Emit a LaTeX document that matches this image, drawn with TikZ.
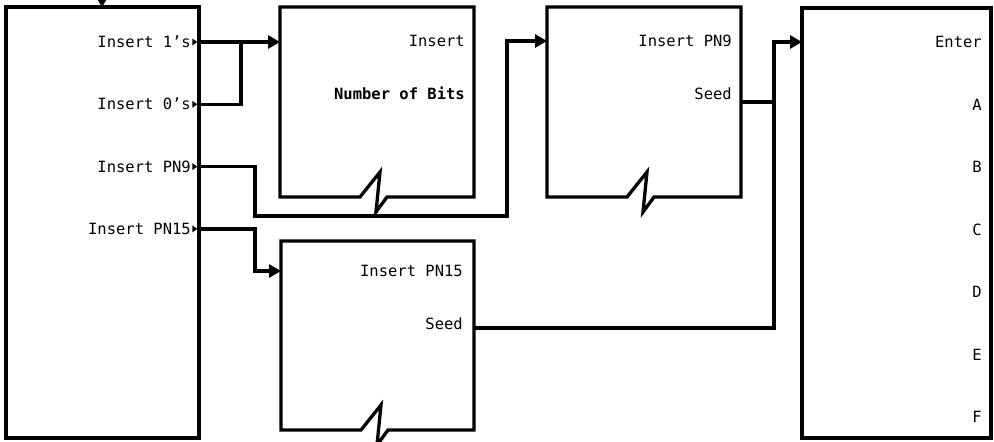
\documentclass[tikz,border=0pt]{standalone}
\usepackage{fontspec}
\setmonofont{DejaVu Sans Mono}
\usetikzlibrary{arrows.meta}

\newcommand{\brkbox}[1]{%
  \draw[blkline] ([xshift=80pt]#1.south west) -- (#1.south west) -- (#1.north west)
    -- (#1.north east) -- (#1.south east) -- ([xshift=107pt]#1.south west)
    -- ++(-11,15) -- ++(4,-40) -- cycle;}

\begin{document}
\begin{tikzpicture}[x=1pt,y=-1pt,
    font=\ttfamily\fontsize{15.5}{16}\selectfont,
    >={Triangle[length=12pt,width=13pt]},
    blk/.style={inner sep=0pt,outer sep=0pt,anchor=north west},
    blkline/.style={line width=3.3pt,line join=miter},
    lbl/.style={anchor=east,inner sep=0pt,text height=11pt,text depth=0pt},
    conn/.style={line width=3.3pt}]
  \useasboundingbox (0,0) rectangle (994,442);

  % blocks
  \node[blk,draw,blkline,minimum width=193pt,minimum height=431pt] (menu) at (6,7) {};
  \node[blk,minimum width=194pt,minimum height=190pt] (bits) at (280,7) {};
  \node[blk,minimum width=194pt,minimum height=190pt] (pnnine) at (547,7) {};
  \node[blk,minimum width=193pt,minimum height=189pt] (pnfift) at (281,241) {};
  \node[blk,draw,blkline,minimum width=189pt,minimum height=430pt] (keys) at (802,8) {};
  \brkbox{bits}
  \brkbox{pnnine}
  \brkbox{pnfift}

  % softkey labels
  \foreach \txt/\nm [count=\i from 0] in {Insert 1’s/ones,Insert 0’s/zeros,Insert PN9/pnine,Insert PN15/pfift}
    \node[lbl] (\nm) at (191,{42+62.3*\i}) {\txt};
  \foreach \nm in {ones,zeros,pnine,pfift}
    \fill ([xshift=-1.7pt]menu.east |- \nm) -- ++(-5,-3.5) -- ++(0,7) -- cycle;
  \node[lbl] (bitsin) at (465,41) {Insert};
  \node[lbl] (bitsnum) at (465,94) {\bfseries Number of Bits};
  \node[lbl] (n9) at (732,41) {Insert PN9};
  \node[lbl] (s9txt) at (732,94) {Seed};
  \node[lbl] (n15) at (463,271) {Insert PN15};
  \node[lbl] (s15txt) at (463,324) {Seed};
  \node[lbl] (enter) at (982,42) {Enter};
  \foreach \k [count=\i] in {A,B,C,D,E,F}
    \node[lbl] (key\k) at (982,{42+62.5*\i}) {\k};

  % connections
  \coordinate (feed) at (102,-2);
  \coordinate (tee) at (241,0);
  \coordinate (j9) at (507,0);
  \coordinate (j15) at (255,0);
  \coordinate (bus) at (774,0);
  \coordinate (s9) at (741,102);
  \coordinate (s15) at (474,328);
  \draw[line width=2pt,-{Triangle[length=7pt,width=8pt]}] (feed) -- (feed |- menu.north);
  \draw[conn,->] (menu.east |- ones) -- (bits.west |- ones);
  \draw[conn] (menu.east |- zeros) -| (tee |- ones);
  \draw[conn,->] (menu.east |- pnine) -| (255,216) -| (j9 |- n9) -- (pnnine.west |- n9);
  \draw[conn,->] (menu.east |- pfift) -| (j15 |- n15) -- (pnfift.west |- n15);
  \draw[conn,->] (pnnine.east |- s9) -| (bus |- enter) -- (keys.west |- enter);
  \draw[conn] (pnfift.east |- s15) -| (bus |- s9);
\end{tikzpicture}
\end{document}
